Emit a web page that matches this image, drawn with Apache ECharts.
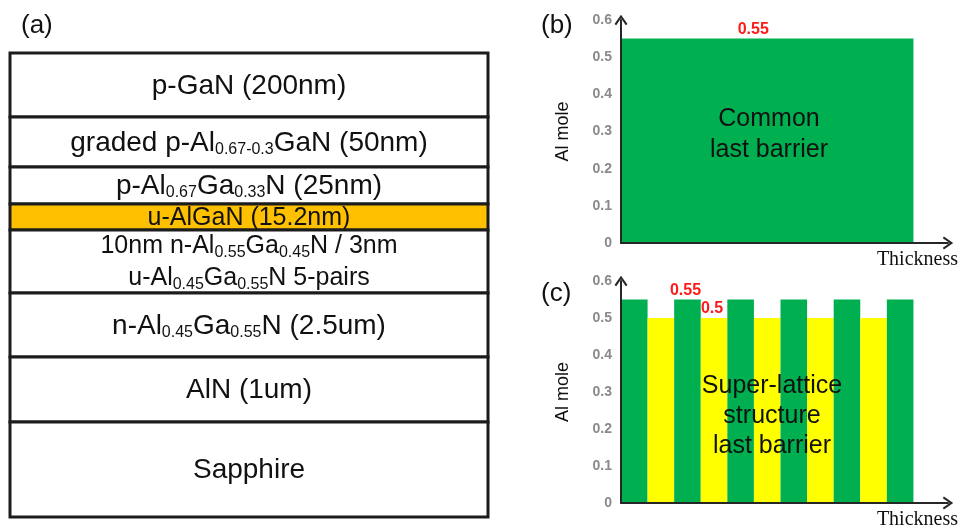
<!DOCTYPE html>
<html>
<head>
<meta charset="utf-8">
<script src="https://cdn.jsdelivr.net/npm/echarts@6/dist/echarts.min.js"></script>
<style>
  html, body { margin: 0; padding: 0; background: #fff; }
  #main { width: 961px; height: 530px; }
</style>
</head>
<body>
<div id="main"></div>
<script>
// ---- Epitaxial layer stack, top to bottom ({s|...} = subscript) ----
const layerNames = [
  'p-GaN (200nm)',
  'graded p-Al{s|0.67-0.3}GaN (50nm)',
  'p-Al{s|0.67}Ga{s|0.33}N (25nm)',
  'u-AlGaN (15.2nm)',
  '10nm n-Al{s|0.55}Ga{s|0.45}N / 3nm\nu-Al{s|0.45}Ga{s|0.55}N 5-pairs',
  'n-Al{s|0.45}Ga{s|0.55}N (2.5um)',
  'AlN (1um)',
  'Sapphire'
];
const highlightedLayer = 'u-AlGaN (15.2nm)';

// ---- Al mole fraction profiles of the last barrier ----
const commonAl = [0.55];
const commonThickness = [11];
const superAl = [0.55, 0.5, 0.55, 0.5, 0.55, 0.5, 0.55, 0.5, 0.55, 0.5, 0.55];
const superThickness = [1, 1, 1, 1, 1, 1, 1, 1, 1, 1, 1];
const commonLabeled = [0];
const superLabeled = [2, 3];

const alMin = 0, alMax = 0.6, alStep = 0.1;
const axisNameX = 'Thickness';
const axisNameY = 'Al mole';

// ---- layout and styling ----
const SANS = '"Liberation Sans", Arial, sans-serif';
const SERIF = '"Liberation Serif", "Times New Roman", serif';
const rowHeights = [64, 50, 37, 26, 63, 64, 65, 95];   // schematic row heights (px)
const rowFont = [28, 28, 28, 25, 25, 28, 28, 28];
const thicknessMax = 12.3;
const GREEN = '#00b050', YELLOW = '#ffff00', ORANGE = '#ffc000';
const AXIS = '#262626';
const chevron = 'path://M0,8.6 L6,0 L12,8.6 L10.4,9.6 L6,3.2 L1.6,9.6 Z';

function toSegments(thick, al) {
  let pos = 0;
  return thick.map((t, i) => { const s = pos; pos += t; return [s, pos, al[i]]; });
}
function toRows(heights) {
  let pos = 0;
  return heights.map(h => { const s = pos; pos += h; return [s, pos]; });
}
const stackTotal = rowHeights.reduce((a, b) => a + b, 0);

function barRenderer(labeled, labelOffset) {
  return function (params, api) {
    const a = api.coord([api.value(0), api.value(2)]);
    const b = api.coord([api.value(1), 0]);
    const al = api.value(2);
    const el = {
      type: 'rect',
      shape: { x: a[0], y: a[1], width: b[0] - a[0], height: b[1] - a[1] },
      style: { fill: al >= 0.55 ? GREEN : YELLOW }
    };
    if (labeled.indexOf(params.dataIndex) >= 0) {
      el.textContent = {
        style: { text: String(al), fill: '#ff1a1a', fontWeight: 'bold', fontSize: 16, fontFamily: SANS }
      };
      el.textConfig = { position: 'top', distance: 1, offset: labelOffset };
    }
    return el;
  };
}

function stackRenderer(params, api) {
  const i = params.dataIndex;
  const p0 = api.coord([0, api.value(0)]);
  const p1 = api.coord([1, api.value(1)]);
  const fs = rowFont[i];
  return {
    type: 'group',
    children: [
      {
        type: 'rect',
        shape: { x: p0[0], y: p0[1], width: p1[0] - p0[0], height: p1[1] - p0[1] },
        style: { fill: layerNames[i] === highlightedLayer ? ORANGE : '#fff', stroke: '#1c1c1c', lineWidth: 3 }
      },
      {
        type: 'text',
        style: {
          text: layerNames[i],
          x: (p0[0] + p1[0]) / 2,
          y: (p0[1] + p1[1]) / 2 + 1,
          align: 'center',
          verticalAlign: 'middle',
          fontSize: fs,
          fontFamily: SANS,
          lineHeight: 32,
          fill: '#111',
          rich: {
            s: { fontSize: 16, fontFamily: SANS, fill: '#111', lineHeight: 16, padding: [13, 0, 0, 0] }
          }
        }
      }
    ]
  };
}

function valueXAxis(gridIndex) {
  return {
    type: 'value', gridIndex, min: 0, max: thicknessMax, z: 5,
    axisLine: { show: true, symbol: ['none', chevron], symbolSize: [13, 11],
      lineStyle: { color: AXIS, width: 2 } },
    axisTick: { show: false }, axisLabel: { show: false }, splitLine: { show: false },
    name: axisNameX, nameLocation: 'end', nameGap: 10,
    nameTextStyle: { fontFamily: SERIF, fontSize: 20, color: '#111', align: 'right',
      verticalAlign: 'top', padding: [7, 0, 0, 0] }
  };
}
function valueYAxis(gridIndex) {
  return {
    type: 'value', gridIndex, min: alMin, max: alMax, interval: alStep, z: 5,
    axisLine: { show: true, symbol: ['none', chevron], symbolSize: [13, 11],
      lineStyle: { color: AXIS, width: 2 } },
    axisTick: { show: false }, splitLine: { show: false },
    axisLabel: { color: '#8a8a8a', fontWeight: 'bold', fontSize: 14, fontFamily: SANS, margin: 9 },
    name: axisNameY, nameLocation: 'middle', nameGap: 49,
    nameTextStyle: { fontFamily: SANS, fontSize: 18, color: '#111' }
  };
}

const chart = echarts.init(document.getElementById('main'), null, { renderer: 'canvas' });

chart.setOption({
  backgroundColor: '#fff',
  animation: false,
  grid: [
    { left: 10, top: 53, width: 478, height: 464 },
    { left: 621, top: 20, right: 13, bottom: 287 },
    { left: 621, top: 281, right: 13, bottom: 25 }
  ],
  xAxis: [
    { type: 'value', gridIndex: 0, min: 0, max: 1, show: false },
    valueXAxis(1),
    valueXAxis(2)
  ],
  yAxis: [
    { type: 'value', gridIndex: 0, min: 0, max: stackTotal, inverse: true, show: false },
    valueYAxis(1),
    valueYAxis(2)
  ],
  series: [
    {
      type: 'custom', xAxisIndex: 0, yAxisIndex: 0, z: 2,
      data: toRows(rowHeights), encode: { y: [0, 1] },
      renderItem: stackRenderer, silent: true
    },
    {
      type: 'custom', xAxisIndex: 1, yAxisIndex: 1, z: 2,
      data: toSegments(commonThickness, commonAl), encode: { x: [0, 1], y: 2 },
      renderItem: barRenderer(commonLabeled, [-14, 0]), silent: true
    },
    {
      type: 'custom', xAxisIndex: 2, yAxisIndex: 2, z: 2,
      data: toSegments(superThickness, superAl), encode: { x: [0, 1], y: 2 },
      renderItem: barRenderer(superLabeled, [-2, 0]), silent: true
    }
  ],
  graphic: [
    { type: 'text', left: 21, top: 13, z: 10,
      style: { text: '(a)', fontSize: 26, fontFamily: SANS, fill: '#111' } },
    { type: 'text', left: 541, top: 13, z: 10,
      style: { text: '(b)', fontSize: 26, fontFamily: SANS, fill: '#111' } },
    { type: 'text', left: 541, top: 281, z: 10,
      style: { text: '(c)', fontSize: 26, fontFamily: SANS, fill: '#111' } },
    { type: 'text', x: 769, y: 135, z: 10,
      style: { text: 'Common\nlast barrier', fontSize: 25, lineHeight: 31, fontFamily: SANS,
        fill: '#111', align: 'center', verticalAlign: 'middle' } },
    { type: 'text', x: 772, y: 416, z: 10,
      style: { text: 'Super-lattice\nstructure\nlast barrier', fontSize: 25, lineHeight: 30,
        fontFamily: SANS, fill: '#111', align: 'center', verticalAlign: 'middle' } }
  ]
});
</script>
</body>
</html>
